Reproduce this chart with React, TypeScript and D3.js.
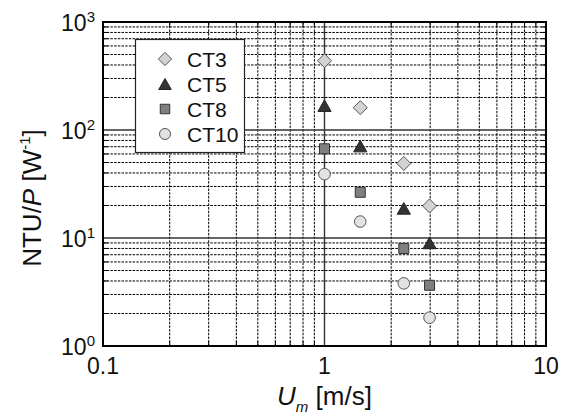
import React from "react"
import * as d3 from "d3"

// flow velocity U_m [m/s]
const speeds = [1, 1.45, 2.28, 2.98]

// NTU/P [W^-1] per configuration
const ct3 = [438, 161, 49, 19.8]
const ct5 = [168, 71, 18.8, 9.0]
const ct8 = [67, 26.5, 8.0, 3.65]
const ct10 = [39, 14.2, 3.8, 1.83]

const seriesNames = ["CT3", "CT5", "CT8", "CT10"]
const xTicks = [0.1, 1, 10]
const xTickLabels = ["0.1", "1", "10"]
const yTicks = [1, 10, 100, 1000]
const yTickExp = ["0", "1", "2", "3"]

const W = 567
const H = 420
const FONT = "'Liberation Sans', Arial, sans-serif"

const plot = { left: 103, right: 546, top: 22, bottom: 346 }

const styles = [
    { shape: "diamond", fill: "#d3d3d3", stroke: "#555" },
    { shape: "triangle", fill: "#333", stroke: "#222" },
    { shape: "square", fill: "#7f7f7f", stroke: "#333" },
    { shape: "circle", fill: "#e2e2e2", stroke: "#555" },
]

function markerPath(shape: string, s = 1) {
    if (shape === "diamond") {
        const r = 7 * s
        return `M0,${-r}L${r},0L0,${r}L${-r},0Z`
    }
    if (shape === "triangle") {
        const w = 6.6 * s, h = 5.8 * s
        return `M0,${-h}L${w},${h}L${-w},${h}Z`
    }
    if (shape === "square") {
        const r = 5 * s
        return `M${-r},${-r}H${r}V${r}H${-r}Z`
    }
    const r = 5.8 * s
    return `M${r},0A${r},${r},0,1,1,${-r},0A${r},${r},0,1,1,${r},0Z`
}

function minorValues(lo: number, hi: number) {
    const out: number[] = []
    for (let d = lo; d < hi; d++) {
        for (let k = 2; k <= 9; k++) out.push(k * Math.pow(10, d))
    }
    return out
}

export default function App() {
    const x = d3.scaleLog().domain([0.1, 10]).range([plot.left, plot.right])
    const y = d3.scaleLog().domain([1, 1000]).range([plot.bottom, plot.top])

    const series = [ct3, ct5, ct8, ct10]
    const xMinor = minorValues(-1, 1)
    const yMinor = minorValues(0, 3)

    return (
        <svg width={W} height={H} style={{ position: "absolute", left: 0, top: 0, background: "#fff" }}
            fontFamily={FONT}>
            <rect x={0} y={0} width={W} height={H} fill="#fff" />

            {/* minor grid */}
            <g stroke="#000" strokeWidth={1} strokeDasharray="2.5,1.2">
                {xMinor.map(v => (
                    <line key={"xm" + v} x1={x(v)} x2={x(v)} y1={plot.top} y2={plot.bottom} />
                ))}
                {yMinor.map(v => (
                    <line key={"ym" + v} x1={plot.left} x2={plot.right} y1={y(v)} y2={y(v)} />
                ))}
            </g>

            {/* major grid */}
            <g stroke="#333" strokeWidth={1.4}>
                <line x1={x(1)} x2={x(1)} y1={plot.top} y2={plot.bottom} />
                <line x1={plot.left} x2={plot.right} y1={y(10)} y2={y(10)} />
                <line x1={plot.left} x2={plot.right} y1={y(100)} y2={y(100)} />
            </g>

            {/* inward ticks */}
            <g stroke="#000" strokeWidth={1}>
                {yMinor.map(v => (
                    <g key={"yt" + v}>
                        <line x1={plot.left} x2={plot.left + 5} y1={y(v)} y2={y(v)} />
                        <line x1={plot.right - 5} x2={plot.right} y1={y(v)} y2={y(v)} />
                    </g>
                ))}
                {xMinor.map(v => (
                    <g key={"xt" + v}>
                        <line x1={x(v)} x2={x(v)} y1={plot.bottom - 5} y2={plot.bottom} />
                        <line x1={x(v)} x2={x(v)} y1={plot.top} y2={plot.top + 5} />
                    </g>
                ))}
            </g>

            {/* data points */}
            {series.map((vals, si) => (
                <g key={seriesNames[si]} fill={styles[si].fill} stroke={styles[si].stroke} strokeWidth={1}>
                    {vals.map((v, i) => (
                        <path key={i} transform={`translate(${x(speeds[i])},${y(v)})`}
                            d={markerPath(styles[si].shape)} />
                    ))}
                </g>
            ))}

            {/* frame */}
            <rect x={plot.left} y={plot.top} width={plot.right - plot.left} height={plot.bottom - plot.top}
                fill="none" stroke="#000" strokeWidth={2} />

            {/* legend */}
            <g>
                <rect x={135.5} y={39.5} width={109} height={113} fill="#fff" stroke="#222" strokeWidth={1.2} />
                {seriesNames.map((name, i) => {
                    const cy = 59 + i * 25
                    return (
                        <g key={name}>
                            <path transform={`translate(165,${cy})`} d={markerPath(styles[i].shape, 0.95)}
                                fill={styles[i].fill} stroke={styles[i].stroke} strokeWidth={1} />
                            <text x={187} y={cy + 7.5} fontSize={21} fill="#111">{name}</text>
                        </g>
                    )
                })}
            </g>

            {/* y tick labels */}
            {yTicks.map((v, i) => (
                <text key={"yl" + v} x={95} y={y(v) + 8.5} fontSize={23} textAnchor="end" fill="#111">
                    10<tspan fontSize={15} dy={-9}>{yTickExp[i]}</tspan>
                </text>
            ))}

            {/* x tick labels */}
            {xTicks.map((v, i) => (
                <text key={"xl" + v} x={x(v)} y={plot.bottom + 28} fontSize={23} textAnchor="middle" fill="#111">
                    {xTickLabels[i]}
                </text>
            ))}

            {/* axis titles */}
            <text x={(plot.left + plot.right) / 2} y={405} fontSize={26} textAnchor="middle" fill="#111">
                <tspan fontStyle="italic">U</tspan>
                <tspan fontStyle="italic" fontSize={15} dy={7}>m</tspan>
                <tspan dy={-7}> [m/s]</tspan>
            </text>
            <text transform="translate(41,198) rotate(-90)" fontSize={26} textAnchor="middle" fill="#111">
                NTU/<tspan fontStyle="italic">P</tspan> [W<tspan fontSize={15} dy={-11}>-1</tspan><tspan dy={11}>]</tspan>
            </text>
        </svg>
    )
}
